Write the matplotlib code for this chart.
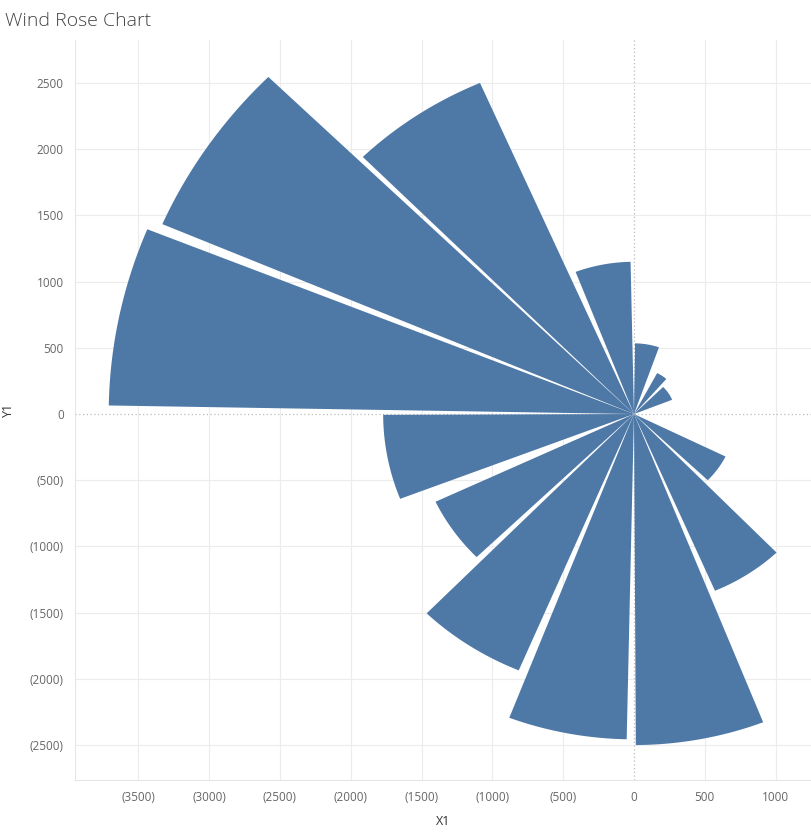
import numpy as np
import matplotlib.pyplot as plt
from matplotlib.patches import Polygon

# direction bins (compass degrees, clockwise from north) and total per bin
bins      = ['N', 'NNE', 'NE', 'SE', 'SSE', 'S', 'SSW', 'SW', 'WSW', 'W', 'WNW', 'NW', 'NNW', 'N2']
dir_start = [0.8, 27.9, 45.2, 116.4, 136.1, 158.6, 181.2, 202.8, 225.8, 248.8, 271.0, 293.3, 315.4, 339.0]
dir_end   = [19.3, 40.8, 68.2, 133.8, 156.8, 179.7, 201.0, 224.2, 244.7, 269.8, 292.1, 314.6, 336.5, 358.8]
totals    = [534, 350, 290, 722, 1452, 2500, 2457, 2100, 1550, 1771, 3709, 3626, 2727, 1150]

x_ticks = [-3500, -3000, -2500, -2000, -1500, -1000, -500, 0, 500, 1000]
y_ticks = [-2500, -2000, -1500, -1000, -500, 0, 500, 1000, 1500, 2000, 2500]

BLUE = '#4E79A7'
GRID = '#ececec'
TXT = '#666666'

plt.rcParams['font.family'] = ['Open Sans', 'DejaVu Sans']

fig = plt.figure(figsize=(8.11, 8.34), dpi=100)
ax = fig.add_axes([75/811, 1-780/834, 1-75/811, (780-40)/834])
ax.set_xlim(-3947, 1250)
ax.set_ylim(-2764, 2825)

def fmt(v):
    return '0' if v == 0 else (f'({abs(v)})' if v < 0 else f'{v}')

for v in x_ticks:
    if v != 0:
        ax.axvline(v, color=GRID, lw=0.8, zorder=0)
for v in y_ticks:
    if v != 0:
        ax.axhline(v, color=GRID, lw=0.8, zorder=0)
ax.axvline(0, color='#bbbbbb', lw=0.9, ls=(0, (1, 2)), zorder=0.5)
ax.axhline(0, color='#bbbbbb', lw=0.9, ls=(0, (1, 2)), zorder=0.5)

for a0, a1, r in zip(dir_start, dir_end, totals):
    th = np.radians(np.linspace(a0, a1, 60))
    pts = [(0, 0)] + list(zip(r*np.sin(th), r*np.cos(th)))
    ax.add_patch(Polygon(pts, closed=True, facecolor=BLUE, edgecolor='none', zorder=2))

ax.set_xticks(x_ticks)
ax.set_xticklabels([fmt(v) for v in x_ticks])
ax.set_yticks(y_ticks)
ax.set_yticklabels([fmt(v) for v in y_ticks])
ax.tick_params(length=0, labelsize=8.5, labelcolor=TXT, pad=8)
for s in ['top', 'right']:
    ax.spines[s].set_visible(False)
for s in ['left', 'bottom']:
    ax.spines[s].set_color('#e6e6e6')
    ax.spines[s].set_linewidth(0.8)

ax.set_xlabel('X1', fontsize=9, color='#333333', labelpad=8)
ax.set_ylabel('Y1', fontsize=9, color='#333333')
ax.yaxis.set_label_coords(-60/736, 0.5)

fig.text(5/811, 1-21/834, 'Wind Rose Chart', fontsize=14, color='#444444',
         va='center', ha='left', fontweight='light')

fig.savefig('out.png', dpi=100, facecolor='white')
